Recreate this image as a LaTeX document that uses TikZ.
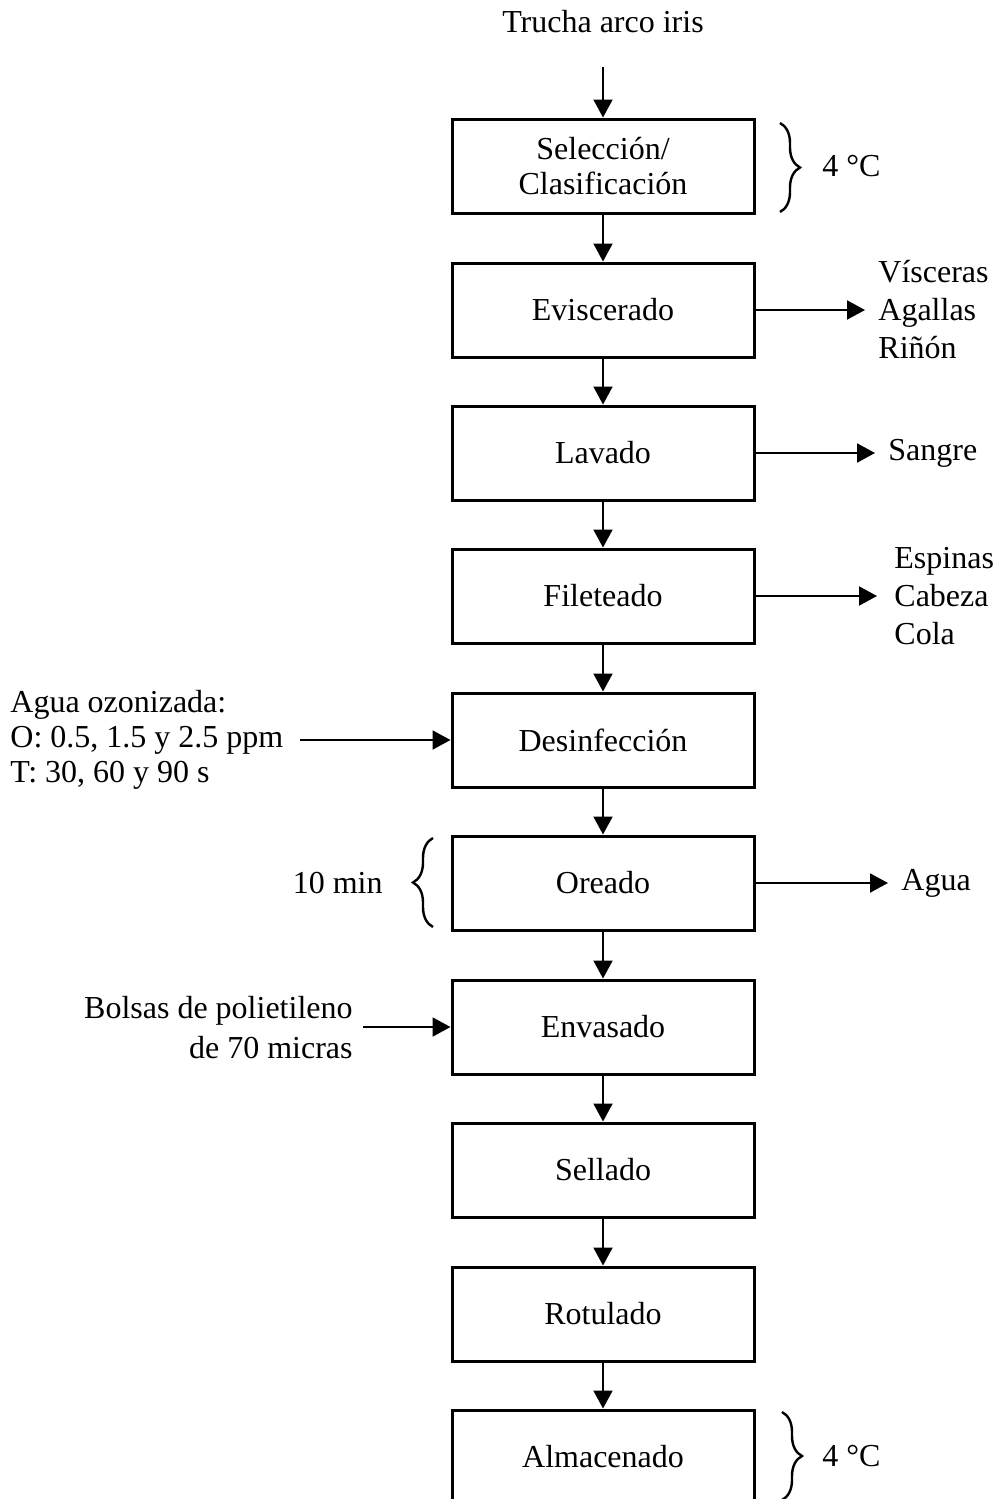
\documentclass[tikz,border=0pt]{standalone}
\usepackage{fontspec}
\setmainfont{Liberation Serif}
\usetikzlibrary{arrows.meta,decorations.pathreplacing}

\begin{document}
\begin{tikzpicture}[x=0.5pt,y=-0.5pt,
    font=\fontsize{16}{16}\selectfont,
    proc/.style={draw,line width=1.5pt,minimum width=151pt,minimum height=47pt,align=center,inner sep=0pt},
    flow/.style={line width=1pt,-{Triangle[length=9pt,width=9.5pt]}},
    lbl/.style={inner sep=0pt},
    cbrace/.style={decorate,decoration={brace,amplitude=10pt},line width=1.2pt}]
    \useasboundingbox (0,0) rectangle (997,1499);

    % main line
    \node[lbl] (trucha) at (603,22) {Trucha arco iris};
    \coordinate (inicio) at (603,67);
    \node[proc,font=\fontsize{16}{17.5}\selectfont] (sel) at (603,166) {Selección/\\Clasificación};
    \node[proc] (evi) at (603,310) {Eviscerado};
    \node[proc] (lav) at (603,453) {Lavado};
    \node[proc] (fil) at (603,596) {Fileteado};
    \node[proc] (des) at (603,740) {Desinfección};
    \node[proc] (ore) at (603,883) {Oreado};
    \node[proc] (env) at (603,1027) {Envasado};
    \node[proc] (sell) at (603,1170) {Sellado};
    \node[proc] (rot) at (603,1314) {Rotulado};
    \node[proc] (alm) at (603,1457) {Almacenado};

    \draw[flow] (inicio) -- (sel.north);
    \foreach \a/\b in {sel/evi,evi/lav,lav/fil,fil/des,des/ore,ore/env,env/sell,sell/rot,rot/alm}
        \draw[flow] (\a.south) -- (\b.north);

    % right: outputs
    \node[lbl,anchor=west,align=left,font=\fontsize{16}{19}\selectfont] (visc) at (878,310) {Vísceras\\Agallas\\Riñón};
    \node[lbl,anchor=west] (sangre) at (888,453) {Sangre};
    \node[lbl,anchor=west,align=left,font=\fontsize{16}{19}\selectfont] (espi) at (894,596) {Espinas\\Cabeza\\Cola};
    \node[lbl,anchor=west] (agua) at (901,883) {Agua};
    \draw[flow,shorten >=6.5pt] (evi.east) -- (evi.east -| visc.west);
    \draw[flow,shorten >=6.5pt] (lav) -- (sangre.west);
    \draw[flow,shorten >=8.5pt] (fil.east) -- (fil.east -| espi.west);
    \draw[flow,shorten >=6.5pt] (ore) -- (agua.west);

    % left: inputs
    \node[lbl,anchor=west,align=left,font=\fontsize{16}{17.5}\selectfont] (ozono) at (10,740)
        {Agua ozonizada:\\O: 0.5, 1.5 y 2.5 ppm\\T: 30, 60 y 90 s};
    \node[lbl,anchor=east,align=right,font=\fontsize{16}{20}\selectfont] (bolsa) at (353,1028)
        {Bolsas de polietileno\\de 70 micras};
    \draw[flow,shorten <=8pt] (ozono.east |- des.west) -- (des.west);
    \draw[flow,shorten <=5pt] (bolsa.east |- env.west) -- (env.west);

    % braces
    \draw[cbrace] (780,123) -- (780,212);
    \node[lbl,anchor=west] (temp1) at (822,166) {4 °C};
    \draw[cbrace] (433,927) -- (433,838);
    \node[lbl,anchor=east] (tiempo) at (383,883) {10 min};
    \draw[cbrace] (782,1412) -- (782,1500);
    \node[lbl,anchor=west] (temp2) at (822,1456) {4 °C};
\end{tikzpicture}
\end{document}
